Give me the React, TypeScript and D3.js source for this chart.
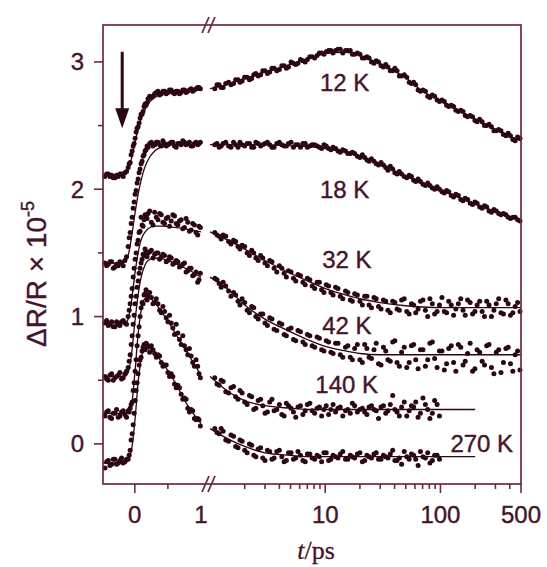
import React from 'react';
import * as d3 from 'd3';

// ---------- sampling times ----------
const LIN_T = [-0.45,-0.4,-0.35,-0.3,-0.25,-0.2,-0.15,-0.1,-0.07,-0.04,-0.01,0.02,0.05,0.08,0.11,0.14,0.17,0.2,0.25,0.3,0.35,0.4,0.45,0.5,0.55,0.6,0.65,0.7,0.75,0.8,0.85,0.9,0.95,0.99];
const LIN_T2 = [-0.425,-0.375,-0.325,-0.275,-0.225,-0.175,-0.125,-0.085,-0.055,-0.025,0.005,0.035,0.065,0.095,0.125,0.155,0.185,0.225,0.275,0.325,0.375,0.425,0.475,0.525,0.575,0.625,0.675,0.725,0.775,0.825,0.875,0.925,0.97];
const LOG_T = [1.1,1.2,1.3,1.45,1.6,1.75,1.9,2.1,2.3,2.5,2.75,3,3.3,3.6,4,4.4,4.8,5.3,5.8,6.4,7,7.7,8.5,9.3,10.2,11.2,12.3,13.5,15,16.5,18,20,22,24,26.5,29,32,35,38.5,42,46,51,56,61,67,74,81,89,98,108,118,130,143,157,172,190,208,230,252,277,305,335,370,405,445,490];
const LOG_T2 = [1.15,1.25,1.37,1.52,1.67,1.82,2.0,2.2,2.4,2.62,2.87,3.15,3.45,3.8,4.2,4.6,5.05,5.55,6.1,6.7,7.35,8.1,8.9,9.75,10.7,11.7,12.9,14.2,15.7,17.2,19,21,23,25.2,27.7,30.5,33.5,36.7,40.2,44,48.5,53.5,58.5,64,70.5,77.5,85,93.5,103,113,124,136,150,164,181,199,219,241,264,291,320,352,387,425,467];
const FIT_LIN_T = [-0.48,-0.3,-0.15,-0.1,-0.05,0,0.05,0.1,0.15,0.2,0.3,0.4,0.6,0.8,1.0];
const FIT_LOG_T = [1,1.5,2,3,5,7,10,15,20,30,50,70,100,150,200,300,500];

// ---------- 12 K ----------
const K12_LIN = [2.10,2.12,2.11,2.09,2.10,2.12,2.13,2.17,2.21,2.30,2.36,2.45,2.49,2.56,2.59,2.65,2.66,2.71,2.72,2.75,2.77,2.75,2.77,2.76,2.78,2.75,2.77,2.76,2.78,2.77,2.79,2.78,2.80,2.79];
const K12_LIN2 = [2.12,2.10,2.09,2.11,2.12,2.10,2.14,2.20,2.27,2.34,2.40,2.48,2.52,2.59,2.61,2.67,2.68,2.73,2.73,2.76,2.74,2.77,2.75,2.78,2.76,2.77,2.75,2.78,2.76,2.78,2.77,2.79,2.80];
const K12_LOG = [2.79,2.82,2.80,2.84,2.83,2.86,2.85,2.88,2.87,2.91,2.90,2.93,2.92,2.95,2.94,2.97,2.96,2.99,2.99,3.01,3.02,3.04,3.05,3.07,3.08,3.09,3.09,3.10,3.09,3.09,3.06,3.06,3.03,3.03,2.99,3.00,2.96,2.96,2.93,2.93,2.89,2.88,2.83,2.82,2.77,2.77,2.72,2.73,2.69,2.69,2.65,2.65,2.61,2.61,2.57,2.57,2.53,2.53,2.50,2.49,2.46,2.46,2.42,2.42,2.38,2.40];
const K12_LOG2 = [2.82,2.80,2.83,2.82,2.86,2.84,2.88,2.86,2.90,2.89,2.93,2.91,2.95,2.93,2.97,2.95,3.00,2.98,3.02,3.00,3.04,3.03,3.07,3.06,3.09,3.07,3.10,3.07,3.09,3.06,3.07,3.03,3.04,3.00,3.01,2.97,2.98,2.93,2.95,2.89,2.90,2.84,2.84,2.78,2.78,2.73,2.74,2.70,2.70,2.66,2.66,2.62,2.62,2.58,2.58,2.54,2.55,2.50,2.51,2.46,2.47,2.43,2.44,2.39,2.41];
const K12_FIT_LIN = [2.11,2.11,2.12,2.15,2.24,2.36,2.47,2.56,2.62,2.67,2.72,2.745,2.76,2.77,2.78];
const K12_FIT_LOG = [2.79,2.83,2.87,2.92,2.98,3.02,3.065,3.075,3.05,2.985,2.875,2.77,2.70,2.61,2.55,2.47,2.38];

// ---------- 18 K ----------
const K18_LIN = [1.42,1.41,1.43,1.39,1.40,1.42,1.44,1.55,1.66,1.78,1.90,1.99,2.08,2.16,2.22,2.27,2.31,2.33,2.37,2.35,2.37,2.34,2.36,2.35,2.37,2.34,2.36,2.35,2.37,2.36,2.34,2.36,2.35,2.37];
const K18_LIN2 = [1.40,1.43,1.38,1.41,1.43,1.40,1.47,1.62,1.73,1.85,1.96,2.05,2.13,2.20,2.26,2.30,2.34,2.36,2.34,2.37,2.35,2.38,2.34,2.36,2.37,2.33,2.36,2.38,2.35,2.37,2.34,2.37,2.36];
const K18_LOG = [2.35,2.33,2.36,2.34,2.37,2.33,2.35,2.36,2.33,2.37,2.34,2.36,2.35,2.33,2.37,2.34,2.36,2.33,2.35,2.36,2.33,2.35,2.34,2.32,2.34,2.31,2.32,2.29,2.30,2.28,2.28,2.25,2.25,2.22,2.22,2.19,2.19,2.15,2.16,2.12,2.12,2.09,2.10,2.06,2.06,2.03,2.03,2.00,2.00,1.97,1.98,1.94,1.95,1.91,1.92,1.88,1.89,1.85,1.86,1.82,1.83,1.80,1.80,1.77,1.78,1.75];
const K18_LOG2 = [2.36,2.34,2.37,2.33,2.35,2.37,2.34,2.36,2.33,2.36,2.35,2.37,2.33,2.36,2.35,2.34,2.37,2.35,2.33,2.36,2.34,2.35,2.33,2.35,2.32,2.33,2.30,2.31,2.28,2.29,2.26,2.27,2.23,2.24,2.20,2.21,2.17,2.18,2.13,2.14,2.10,2.11,2.07,2.08,2.04,2.05,2.01,2.02,1.98,1.99,1.95,1.96,1.92,1.93,1.89,1.90,1.86,1.87,1.83,1.84,1.81,1.81,1.78,1.78,1.76];
const K18_FIT_LIN = [1.42,1.42,1.43,1.48,1.62,1.80,1.96,2.08,2.17,2.23,2.30,2.33,2.35,2.35,2.35];
const K18_FIT_LOG = [2.35,2.35,2.35,2.35,2.34,2.335,2.32,2.29,2.26,2.20,2.10,2.05,2.00,1.93,1.885,1.825,1.755];

// ---------- 32 K ----------
const K32_LIN = [0.95,0.93,0.96,0.92,0.94,0.96,0.95,1.00,1.10,1.22,1.38,1.50,1.60,1.67,1.72,1.76,1.79,1.81,1.74,1.82,1.76,1.80,1.73,1.78,1.75,1.79,1.72,1.76,1.70,1.74,1.68,1.72,1.64,1.70];
const K32_LIN2 = [0.97,0.94,0.92,0.96,0.93,0.97,0.94,1.05,1.16,1.31,1.45,1.57,1.66,1.78,1.71,1.80,1.77,1.83,1.72,1.78,1.81,1.74,1.77,1.71,1.80,1.73,1.75,1.69,1.77,1.67,1.73,1.66,1.71];
const K32_LOG = [1.66,1.63,1.64,1.59,1.60,1.55,1.56,1.50,1.52,1.46,1.48,1.42,1.44,1.38,1.40,1.34,1.36,1.30,1.33,1.27,1.30,1.24,1.27,1.21,1.25,1.19,1.23,1.16,1.20,1.13,1.18,1.12,1.16,1.09,1.15,1.08,1.13,1.05,1.12,1.06,1.13,1.04,1.10,1.03,1.12,1.05,1.14,1.02,1.09,1.04,1.12,1.01,1.10,1.05,1.13,1.02,1.09,1.04,1.12,1.00,1.10,1.03,1.13,1.01,1.08,1.04];
const K32_LOG2 = [1.64,1.61,1.63,1.57,1.59,1.53,1.55,1.48,1.50,1.44,1.46,1.40,1.43,1.35,1.38,1.31,1.35,1.28,1.32,1.25,1.29,1.22,1.27,1.19,1.24,1.17,1.22,1.14,1.19,1.12,1.17,1.09,1.16,1.07,1.14,1.06,1.12,1.03,1.11,1.05,1.14,1.02,1.09,1.06,1.13,1.00,1.10,1.04,1.15,1.03,1.09,1.06,1.14,1.01,1.11,1.04,1.12,1.00,1.09,1.05,1.14,1.02,1.10,1.03,1.11];
const K32_FIT_LIN = [0.95,0.95,0.95,0.98,1.12,1.33,1.50,1.61,1.66,1.69,1.71,1.71,1.70,1.685,1.665];
const K32_FIT_LOG = [1.665,1.59,1.53,1.44,1.34,1.28,1.22,1.17,1.14,1.11,1.085,1.075,1.07,1.07,1.07,1.07,1.07];

// ---------- 42 K ----------
const K42_LIN = [0.53,0.50,0.55,0.52,0.54,0.51,0.55,0.60,0.70,0.85,1.01,1.16,1.28,1.38,1.45,1.48,1.51,1.50,1.52,1.49,1.50,1.47,1.48,1.44,1.46,1.42,1.43,1.40,1.42,1.36,1.38,1.33,1.27,1.34];
const K42_LIN2 = [0.51,0.54,0.50,0.53,0.56,0.52,0.57,0.65,0.78,0.94,1.10,1.23,1.34,1.42,1.49,1.53,1.47,1.51,1.46,1.50,1.45,1.49,1.43,1.47,1.41,1.44,1.39,1.41,1.35,1.38,1.32,1.35,1.29];
const K42_LOG = [1.30,1.26,1.27,1.20,1.19,1.12,1.14,1.05,1.08,1.00,1.02,0.95,0.99,0.90,0.95,0.86,0.90,0.82,0.89,0.80,0.86,0.77,0.84,0.74,0.81,0.72,0.79,0.70,0.76,0.68,0.75,0.66,0.78,0.68,0.74,0.63,0.76,0.66,0.80,0.64,0.72,0.60,0.77,0.66,0.74,0.61,0.79,0.67,0.73,0.58,0.75,0.64,0.78,0.62,0.71,0.57,0.74,0.65,0.77,0.60,0.72,0.56,0.75,0.63,0.70,0.58];
const K42_LOG2 = [1.29,1.23,1.24,1.16,1.17,1.09,1.11,1.03,1.07,0.98,1.02,0.93,0.98,0.89,0.94,0.85,0.91,0.81,0.88,0.78,0.85,0.76,0.83,0.73,0.80,0.71,0.79,0.68,0.77,0.66,0.78,0.64,0.75,0.67,0.79,0.62,0.73,0.65,0.81,0.61,0.76,0.64,0.78,0.59,0.74,0.66,0.80,0.60,0.73,0.63,0.77,0.57,0.76,0.65,0.79,0.59,0.72,0.62,0.78,0.55,0.74,0.64,0.76,0.57,0.73];
const K42_FIT_LIN = [0.53,0.53,0.53,0.56,0.70,0.95,1.17,1.32,1.40,1.44,1.46,1.455,1.42,1.37,1.31];
const K42_FIT_LOG = [1.31,1.20,1.09,0.98,0.88,0.82,0.765,0.73,0.71,0.70,0.70,0.70,0.70,0.70,0.70,0.70,0.70];

// ---------- 140 K ----------
const K140_LIN = [0.22,0.26,0.20,0.24,0.21,0.25,0.23,0.26,0.28,0.33,0.48,0.66,0.85,1.00,1.11,1.17,1.21,1.16,1.15,1.11,1.10,1.03,1.04,0.96,0.95,0.86,0.87,0.78,0.77,0.70,0.69,0.61,0.61,0.52];
const K140_LIN2 = [0.25,0.21,0.24,0.27,0.22,0.26,0.21,0.25,0.31,0.42,0.57,0.77,0.92,1.07,1.10,1.18,1.13,1.19,1.10,1.14,1.05,1.08,0.99,1.01,0.91,0.94,0.82,0.85,0.74,0.75,0.64,0.66,0.55];
const K140_LOG = [0.52,0.46,0.49,0.40,0.45,0.35,0.40,0.31,0.37,0.28,0.35,0.24,0.33,0.26,0.31,0.22,0.30,0.25,0.29,0.23,0.31,0.26,0.28,0.22,0.30,0.27,0.25,0.29,0.26,0.24,0.30,0.27,0.25,0.29,0.27,0.20,0.30,0.26,0.38,0.25,0.29,0.22,0.30,0.33,0.24,0.31,0.20,0.34,0.22];
const K140_LOG2 = [0.47,0.50,0.41,0.44,0.37,0.42,0.33,0.38,0.27,0.34,0.30,0.25,0.35,0.27,0.23,0.32,0.28,0.21,0.30,0.26,0.32,0.24,0.29,0.27,0.23,0.31,0.28,0.22,0.27,0.32,0.25,0.28,0.23,0.30,0.26,0.29,0.24,0.31,0.27,0.22,0.33,0.26,0.29,0.21,0.36,0.27,0.24,0.31];
const K140_FIT_LIN = [0.24,0.24,0.24,0.25,0.30,0.55,0.86,1.06,1.14,1.15,1.11,1.04,0.88,0.71,0.54];
const K140_FIT_LOG = [0.53,0.40,0.34,0.30,0.28,0.27,0.27,0.27,0.27,0.27,0.27,0.27,0.27,0.27,0.27];

// ---------- 270 K ----------
const K270_LIN = [-0.19,-0.13,-0.16,-0.12,-0.15,-0.11,-0.14,-0.12,-0.05,0.08,0.24,0.42,0.55,0.66,0.73,0.78,0.79,0.76,0.77,0.71,0.70,0.64,0.62,0.56,0.55,0.47,0.46,0.39,0.36,0.28,0.27,0.20,0.20,0.14];
const K270_LIN2 = [-0.14,-0.17,-0.12,-0.16,-0.13,-0.15,-0.12,-0.09,0.03,0.15,0.34,0.48,0.62,0.68,0.76,0.74,0.78,0.72,0.74,0.68,0.69,0.61,0.62,0.53,0.53,0.44,0.44,0.35,0.35,0.25,0.26,0.19,0.19];
const K270_LOG = [0.12,0.08,0.10,0.02,0.06,-0.03,0.02,-0.07,-0.01,-0.10,-0.03,-0.13,-0.06,-0.11,-0.05,-0.14,-0.07,-0.12,-0.06,-0.13,-0.08,-0.11,-0.09,-0.14,-0.07,-0.12,-0.10,-0.08,-0.12,-0.09,-0.11,-0.07,-0.13,-0.10,-0.08,-0.12,-0.09,-0.11,-0.05,-0.13,-0.16,-0.10,-0.08,-0.12,-0.06,-0.11,-0.15,-0.09,-0.12];
const K270_LOG2 = [0.09,0.12,0.03,0.07,-0.02,0.03,-0.05,0.00,-0.09,-0.04,-0.11,-0.05,-0.12,-0.06,-0.10,-0.13,-0.07,-0.11,-0.09,-0.14,-0.08,-0.12,-0.10,-0.07,-0.13,-0.09,-0.11,-0.06,-0.12,-0.10,-0.08,-0.14,-0.09,-0.11,-0.07,-0.12,-0.10,-0.08,-0.13,-0.11,-0.06,-0.12,-0.09,-0.17,-0.10,-0.07,-0.13,-0.09];
const K270_FIT_LIN = [-0.15,-0.15,-0.15,-0.13,-0.05,0.17,0.48,0.68,0.75,0.76,0.71,0.65,0.49,0.30,0.16];
const K270_FIT_LOG = [0.12,0.03,-0.02,-0.07,-0.09,-0.10,-0.10,-0.10,-0.10,-0.10,-0.10,-0.10,-0.10,-0.10,-0.10];

// ---------- labels ----------
const LABELS = ['12 K', '18 K', '32 K', '42 K', '140 K', '270 K'];
const LABEL_T = [9.0, 9.0, 9.4, 9.4, 8.2, 122];
const LABEL_Y = [2.77, 1.93, 1.38, 0.86, 0.40, -0.063];

// ---------- axes ----------
const Y_MAJOR = [0, 1, 2, 3];
const Y_MINOR = [0.5, 1.5, 2.5];
const XLIN_MAJOR = [0];
const XLIN_MINOR = [0.5];
const XLIN_LABELS = [0, 1];
const XLOG_MAJOR = [10, 100, 500];
const XLOG_MINOR = [2, 3, 4, 5, 6, 7, 8, 9, 20, 30, 40, 50, 60, 70, 80, 90, 200, 300, 400];

const ARROW_T = -0.19;
const ARROW_Y = [3.08, 2.48];

const DOT = '#2a0712';
const AXIS = '#6e2942';
const TEXT = '#45142a';

const SERIES = [
  { lin: K12_LIN, lin2: K12_LIN2, log: K12_LOG, log2: K12_LOG2, fl: K12_FIT_LIN, fg: K12_FIT_LOG },
  { lin: K18_LIN, lin2: K18_LIN2, log: K18_LOG, log2: K18_LOG2, fl: K18_FIT_LIN, fg: K18_FIT_LOG },
  { lin: K32_LIN, lin2: K32_LIN2, log: K32_LOG, log2: K32_LOG2, fl: K32_FIT_LIN, fg: K32_FIT_LOG },
  { lin: K42_LIN, lin2: K42_LIN2, log: K42_LOG, log2: K42_LOG2, fl: K42_FIT_LIN, fg: K42_FIT_LOG },
  { lin: K140_LIN, lin2: K140_LIN2, log: K140_LOG, log2: K140_LOG2, fl: K140_FIT_LIN, fg: K140_FIT_LOG },
  { lin: K270_LIN, lin2: K270_LIN2, log: K270_LOG, log2: K270_LOG2, fl: K270_FIT_LIN, fg: K270_FIT_LOG },
];

function zip(t: number[], v: number[]): [number, number][] {
  const n = Math.min(t.length, v.length);
  const out: [number, number][] = [];
  for (let i = 0; i < n; i++) out.push([t[i], v[i]]);
  return out;
}

export default function App() {
  const xLin = d3.scaleLinear().domain([-0.48, 1]).range([103, 201]);
  const xLog = d3.scaleLog().domain([1, 500]).range([210, 521]);
  const y = d3.scaleLinear().domain([-0.315, 3.29]).range([484, 25]);

  const left = xLin.range()[0];
  const right = xLog.range()[1];
  const top = y.range()[1];
  const bottom = y.range()[0];

  const lineLin = d3.line<[number, number]>().x(d => xLin(d[0])).y(d => y(d[1])).curve(d3.curveMonotoneX);
  const lineLog = d3.line<[number, number]>().x(d => xLog(d[0])).y(d => y(d[1])).curve(d3.curveMonotoneX);

  const font = '"Liberation Sans", Arial, sans-serif';
  const brkX = 209;
  const brk = (cy: number) => (
    <g stroke={AXIS} strokeWidth={1.8}>
      <line x1={brkX - 7} y1={cy + 8} x2={brkX} y2={cy - 8} />
      <line x1={brkX - 1} y1={cy + 8} x2={brkX + 6} y2={cy - 8} />
    </g>
  );

  const ax = xLin(ARROW_T);
  const R = 2.5;

  return (
    <svg width={547} height={567} style={{ position: 'absolute', left: 0, top: 0, background: '#fff' }}>
      <rect x={0} y={0} width={547} height={567} fill="#fff" />
      {/* fits */}
      <g fill="none" stroke={DOT} strokeWidth={1.3}>
        {SERIES.map((s, i) => (
          <g key={i}>
            <path d={lineLin(zip(FIT_LIN_T, s.fl)) || ''} />
            <path d={lineLog(zip(FIT_LOG_T, s.fg)) || ''} />
          </g>
        ))}
      </g>
      {/* dots */}
      <g fill={DOT}>
        {SERIES.map((s, i) => (
          <g key={i}>
            {zip(LIN_T, s.lin).concat(zip(LIN_T2, s.lin2)).map((d, j) => (
              <circle key={'a' + j} cx={xLin(d[0])} cy={y(d[1])} r={R} />
            ))}
            {zip(LOG_T, s.log).concat(zip(LOG_T2, s.log2)).map((d, j) => (
              <circle key={'b' + j} cx={xLog(d[0])} cy={y(d[1])} r={R} />
            ))}
          </g>
        ))}
      </g>
      {/* frame */}
      <rect x={left} y={top} width={right - left} height={bottom - top} fill="none" stroke={AXIS} strokeWidth={1.7} />
      {brk(top)}
      {brk(bottom)}
      {/* ticks */}
      <g stroke={AXIS} strokeWidth={1.6}>
        {Y_MAJOR.map(v => <line key={'ym' + v} x1={left - 9} x2={left} y1={y(v)} y2={y(v)} />)}
        {Y_MINOR.map(v => <line key={'yn' + v} x1={left - 5} x2={left} y1={y(v)} y2={y(v)} />)}
        {XLIN_MAJOR.map(v => <line key={'xm' + v} x1={xLin(v)} x2={xLin(v)} y1={bottom} y2={bottom + 9} />)}
        {XLIN_MINOR.map(v => <line key={'xn' + v} x1={xLin(v)} x2={xLin(v)} y1={bottom} y2={bottom + 5} />)}
        {XLOG_MAJOR.map(v => <line key={'gm' + v} x1={xLog(v)} x2={xLog(v)} y1={bottom} y2={bottom + 9} />)}
        {XLOG_MINOR.map(v => <line key={'gn' + v} x1={xLog(v)} x2={xLog(v)} y1={bottom} y2={bottom + 5} />)}
      </g>
      <g fill={TEXT} stroke={TEXT} strokeWidth={0.4} fontFamily={font} fontSize={24}>
        {Y_MAJOR.map(v => (
          <text key={'yl' + v} x={left - 19} y={y(v)} textAnchor="end" dominantBaseline="central">{v}</text>
        ))}
        {XLIN_LABELS.map(v => (
          <text key={'xl' + v} x={xLin(v)} y={523} textAnchor="middle">{v}</text>
        ))}
        {XLOG_MAJOR.map(v => (
          <text key={'gl' + v} x={xLog(v)} y={523} textAnchor="middle">{v}</text>
        ))}
        {LABELS.map((l, i) => (
          <text key={l} x={xLog(LABEL_T[i])} y={y(LABEL_Y[i])}>{l}</text>
        ))}
      </g>
      {/* axis titles */}
      <text x={316} y={559} textAnchor="middle" fill={TEXT} stroke={TEXT} strokeWidth={0.3} fontFamily='"Liberation Serif", "Times New Roman", serif' fontSize={26}>
        <tspan fontStyle="italic">t</tspan>/ps
      </text>
      <text transform="translate(46,274) rotate(-90)" textAnchor="middle" fill={TEXT} stroke={TEXT} strokeWidth={0.4} fontFamily={font} fontSize={28}>
        ΔR/R × 10<tspan fontSize={18} dy={-12}>-5</tspan>
      </text>
      {/* arrow */}
      <line x1={ax} x2={ax} y1={y(ARROW_Y[0])} y2={y(ARROW_Y[1]) - 16} stroke={DOT} strokeWidth={3} />
      <polygon points={`${ax - 7},${y(ARROW_Y[1]) - 20} ${ax + 7},${y(ARROW_Y[1]) - 20} ${ax},${y(ARROW_Y[1])}`} fill={DOT} />
    </svg>
  );
}
